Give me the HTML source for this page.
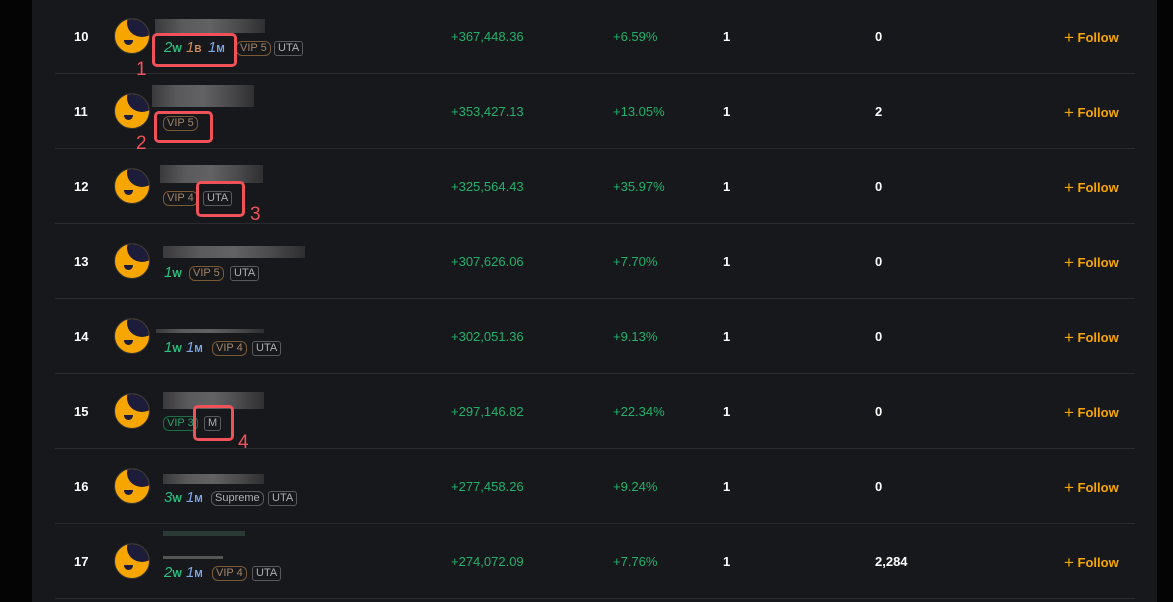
<!DOCTYPE html><html><head><style>
body{margin:0;width:1173px;height:602px;background:#040404;overflow:hidden;font-family:"Liberation Sans",sans-serif;position:relative}
#p{position:absolute;left:32px;top:0;width:1125px;height:602px;background:#17181c}
.r{position:absolute;left:0;width:1173px;height:75px}
.sep{position:absolute;left:55px;width:1080px;top:74px;height:1px;background:#2a2b30}
.t{position:absolute;top:30px;font-size:13px;font-weight:bold;line-height:16px}
.rk{left:74px;color:#fff}
.pn{left:451px;color:#20b26c;font-weight:normal}
.ro{left:613px;color:#20b26c;font-weight:normal}
.c1{left:723px;color:#fff}
.c2{left:875px;color:#fff}
.fo{left:1064px;color:#f7a600;font-weight:bold;font-size:13px}
.fo b{font-weight:normal;font-size:17px;position:relative;top:1px}
.av{position:absolute;left:114px;top:19px;width:34px;height:34px;border-radius:50%;background:#f7a600;overflow:hidden;border:1px solid #333}
.av:before{content:"";position:absolute;left:12px;top:-10px;width:30px;height:28px;border-radius:50%;background:#1d1c3b}
.av:after{content:"";position:absolute;left:9px;top:21px;width:9px;height:5px;border-radius:0 0 6px 6px;background:#1d1c3b}
.nm{position:absolute;top:20px;height:14px;background:linear-gradient(90deg,#3a3a3c,#5a5a5c,#626264,#4b4b4d,#2f2f31)}
.b{position:absolute;top:42px;font-size:11px;line-height:13px;padding:0 3px;border:1px solid #5a5a5e;border-radius:3px;color:#b0b0b4}
.v{border-color:#7a5a35;color:#a08468;border-radius:6px}
.g{border-color:#1d6e46;color:#26a36a;border-radius:6px}
.m{position:absolute;top:41px;font-size:15px;font-style:italic;line-height:16px}
.m small{font-size:10px;font-style:normal;font-weight:bold}
.w{color:#2bc07f}.bb{color:#d08a5a}.mm{color:#7fa6e6}
.red{position:absolute;border:3px solid #f0525a;border-radius:5px}
.lab{position:absolute;color:#f0525a;font-size:19px}
</style></head><body>
<div id="p"></div>

<div class="r" style="top:-1px"><div class="sep"></div>
<span class="t rk">10</span><div class="av"></div><div class="nm" style="left:155px;width:110px"></div>
<span class="m w" style="left:164px">2<small>W</small></span><span class="m bb" style="left:186px">1<small>B</small></span><span class="m mm" style="left:208px">1<small>M</small></span>
<span class="b v" style="left:236px">VIP 5</span><span class="b" style="left:274px">UTA</span>
<span class="t pn">+367,448.36</span><span class="t ro">+6.59%</span><span class="t c1">1</span><span class="t c2">0</span><span class="t fo"><b>+</b> Follow</span></div>

<div class="r" style="top:74px"><div class="sep"></div>
<span class="t rk">11</span><div class="av"></div><div class="nm" style="left:152px;width:102px;top:11px;height:22px"></div>
<span class="b v" style="left:163px">VIP 5</span>
<span class="t pn">+353,427.13</span><span class="t ro">+13.05%</span><span class="t c1">1</span><span class="t c2">2</span><span class="t fo"><b>+</b> Follow</span></div>

<div class="r" style="top:149px"><div class="sep"></div>
<span class="t rk">12</span><div class="av"></div><div class="nm" style="left:160px;width:103px;top:16px;height:18px"></div>
<span class="b v" style="left:163px">VIP 4</span><span class="b" style="left:203px">UTA</span>
<span class="t pn">+325,564.43</span><span class="t ro">+35.97%</span><span class="t c1">1</span><span class="t c2">0</span><span class="t fo"><b>+</b> Follow</span></div>

<div class="r" style="top:224px"><div class="sep"></div>
<span class="t rk">13</span><div class="av"></div><div class="nm" style="left:163px;width:142px;top:22px;height:12px"></div>
<span class="m w" style="left:164px">1<small>W</small></span>
<span class="b v" style="left:189px">VIP 5</span><span class="b" style="left:230px">UTA</span>
<span class="t pn">+307,626.06</span><span class="t ro">+7.70%</span><span class="t c1">1</span><span class="t c2">0</span><span class="t fo"><b>+</b> Follow</span></div>

<div class="r" style="top:299px"><div class="sep"></div>
<span class="t rk">14</span><div class="av"></div><div class="nm" style="left:156px;width:108px;top:30px;height:4px"></div>
<span class="m w" style="left:164px">1<small>W</small></span><span class="m mm" style="left:186px">1<small>M</small></span>
<span class="b v" style="left:212px">VIP 4</span><span class="b" style="left:252px">UTA</span>
<span class="t pn">+302,051.36</span><span class="t ro">+9.13%</span><span class="t c1">1</span><span class="t c2">0</span><span class="t fo"><b>+</b> Follow</span></div>

<div class="r" style="top:374px"><div class="sep"></div>
<span class="t rk">15</span><div class="av"></div><div class="nm" style="left:163px;width:101px;top:18px;height:17px"></div>
<span class="b g" style="left:163px">VIP 3</span><span class="b" style="left:204px">M</span>
<span class="t pn">+297,146.82</span><span class="t ro">+22.34%</span><span class="t c1">1</span><span class="t c2">0</span><span class="t fo"><b>+</b> Follow</span></div>

<div class="r" style="top:449px"><div class="sep"></div>
<span class="t rk">16</span><div class="av"></div><div class="nm" style="left:163px;width:101px;top:25px;height:10px"></div>
<span class="m w" style="left:164px">3<small>W</small></span><span class="m mm" style="left:186px">1<small>M</small></span>
<span class="b" style="left:211px;border-radius:6px">Supreme</span><span class="b" style="left:268px">UTA</span>
<span class="t pn">+277,458.26</span><span class="t ro">+9.24%</span><span class="t c1">1</span><span class="t c2">0</span><span class="t fo"><b>+</b> Follow</span></div>

<div class="r" style="top:524px"><div class="sep"></div>
<span class="t rk">17</span><div class="av"></div><div class="nm" style="left:163px;width:82px;top:7px;height:5px;background:#2c3a36"></div><div class="nm" style="left:163px;width:60px;top:32px;height:3px;background:#555"></div>
<span class="m w" style="left:164px">2<small>W</small></span><span class="m mm" style="left:186px">1<small>M</small></span>
<span class="b v" style="left:212px">VIP 4</span><span class="b" style="left:252px">UTA</span>
<span class="t pn">+274,072.09</span><span class="t ro">+7.76%</span><span class="t c1">1</span><span class="t c2">2,284</span><span class="t fo"><b>+</b> Follow</span></div>

<div class="red" style="left:152px;top:33px;width:79px;height:28px"></div><span class="lab" style="left:136px;top:59px">1</span>
<div class="red" style="left:154px;top:111px;width:53px;height:26px"></div><span class="lab" style="left:136px;top:133px">2</span>
<div class="red" style="left:196px;top:181px;width:43px;height:30px"></div><span class="lab" style="left:250px;top:204px">3</span>
<div class="red" style="left:193px;top:405px;width:35px;height:30px"></div><span class="lab" style="left:238px;top:432px">4</span>
</body></html>
